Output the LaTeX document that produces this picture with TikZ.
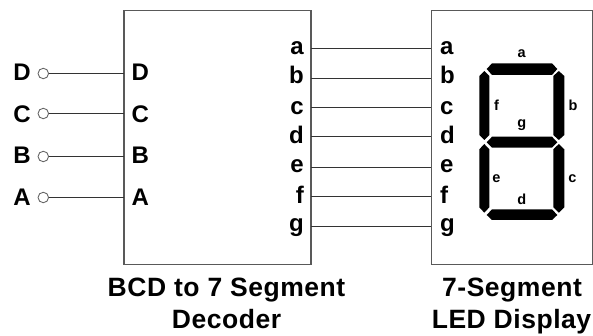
\documentclass[tikz,border=0pt]{standalone}
\usepackage{fontspec}
\setmainfont{Liberation Sans}
\newfontfamily\capfont[LetterSpace=2]{Liberation Sans}
\tikzset{x=1pt,y=-1pt,
 boxstyle/.style={draw=black!65,line width=1.4pt,fill=none,inner sep=0pt,outer sep=0pt},
 wire/.style={draw=black!80,line width=1pt},
 term/.style={circle,draw=black!60,line width=.9pt,fill=white,minimum size=10.5pt,inner sep=0pt,outer sep=0pt},
 big/.style={font=\bfseries\fontsize{24}{24}\selectfont,inner sep=0pt,anchor=base},
 seglabel/.style={font=\bfseries\fontsize{14.5}{14.5}\selectfont,inner sep=0pt,anchor=base},
 captext/.style={font=\capfont\bfseries\fontsize{26.5}{30}\selectfont,inner sep=0pt,anchor=base},
 segment/.style={fill=black,draw=none}}
\begin{document}
\begin{tikzpicture}
\useasboundingbox (0,0) rectangle (593,336);
\node[boxstyle,minimum width=187pt,minimum height=254pt] (dec) at (217.5,137.5) {};
\node[boxstyle,minimum width=161pt,minimum height=254pt] (disp) at (511.8,137.5) {};
% inputs
\foreach \n/\y/\b in {D/73.5/81,C/113.5/122.5,B/156.5/163.5,A/197.5/206}{
  \node[big,anchor=base east] (in\n) at (31,\b) {\n};
  \node[term] (t\n) at (43.3,\y) {};
  \coordinate (p\n) at (dec.west |- t\n);
  \draw[wire] (t\n) -- (p\n);
  \node[big,anchor=base west] (l\n) at (131.5,\b) {\n};
}
% outputs
\foreach \n/\y/\b in {a/48.5/55,b/78.5/84,c/107.5/115,d/136.5/144,e/167.5/173,f/196.5/204,g/226.5/232}{
  \coordinate (o\n) at (dec.east |- 0,\y);
  \coordinate (i\n) at (disp.west |- o\n);
  \draw[wire] (o\n) -- (i\n);
  \node[big,anchor=base east] (dl\n) at (304,\b) {\n};
  \node[big,anchor=base west] (sl\n) at (440,\b) {\n};
}
% segments
\fill[segment] (486.7,69) -- (492,63.3) -- (552,63.3) -- (557.3,69) -- (552,75) -- (492,75) -- cycle;
\fill[segment] (486.7,142.3) -- (492,136.7) -- (552,136.7) -- (557.3,142.3) -- (552,147.7) -- (492,147.7) -- cycle;
\fill[segment] (486.7,215) -- (492,209.3) -- (552,209.3) -- (557.3,215) -- (552,220) -- (492,220) -- cycle;
\fill[segment] (484.3,71) -- (489.3,76) -- (489.3,135) -- (484.3,140) -- (479.3,135) -- (479.3,76) -- cycle;
\fill[segment] (484.3,144) -- (489.3,149.3) -- (489.3,207.3) -- (484.3,212.7) -- (479.3,207.3) -- (479.3,149.3) -- cycle;
\fill[segment] (558.8,71) -- (564.3,76) -- (564.3,135) -- (558.8,140) -- (553.3,135) -- (553.3,76) -- cycle;
\fill[segment] (558.8,144) -- (564.3,149.3) -- (564.3,207.3) -- (558.8,212.7) -- (553.3,207.3) -- (553.3,149.3) -- cycle;
\node[seglabel] (sa) at (521.7,58) {a};
\node[seglabel] (sf) at (496.5,110.5) {f};
\node[seglabel] (sb) at (573,110.5) {b};
\node[seglabel] (sg) at (521.7,127.5) {g};
\node[seglabel] (se) at (496.5,183) {e};
\node[seglabel] (sc) at (572.5,183) {c};
\node[seglabel] (sd) at (521.7,205) {d};
% captions
\node[captext] (c1) at (226.5,296.5) {BCD to 7 Segment};
\node[captext] (c2) at (226.5,328) {Decoder};
\node[captext] (c3) at (512,296.5) {7-Segment};
\node[captext] (c4) at (511.5,328) {LED Display};
\end{tikzpicture}
\end{document}
